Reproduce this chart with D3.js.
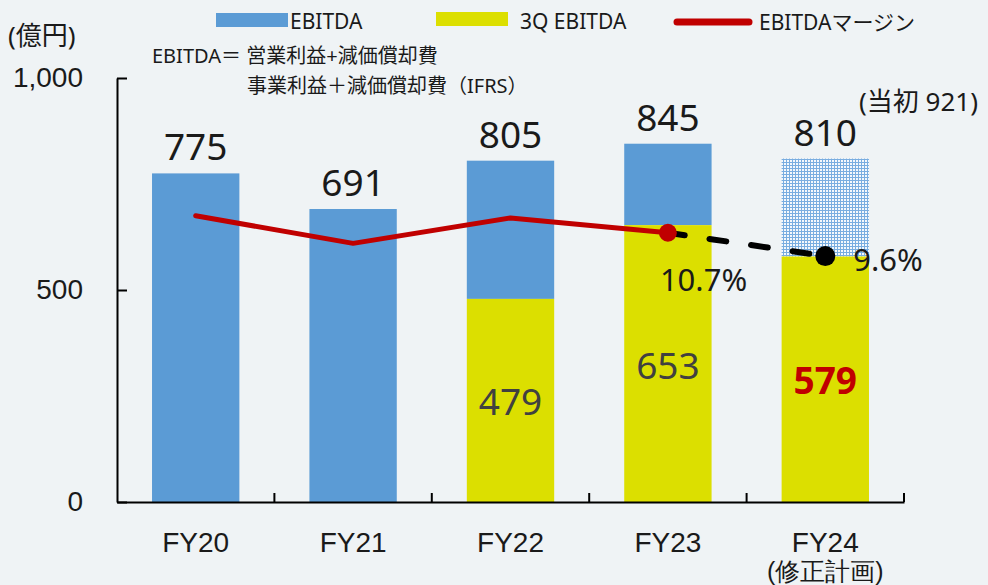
<!DOCTYPE html>
<html lang="ja">
<head>
<meta charset="utf-8">
<script src="https://cdn.jsdelivr.net/npm/d3@7"></script>
<style>
    html, body { margin: 0; padding: 0; background: #eff3f5; }
    svg { display: block; font-family: "Noto Sans", "Noto Sans CJK JP", sans-serif; }
</style>
</head>
<body>
<svg id="chart" width="988" height="585"></svg>
<script>
// data
let categories = ['FY20', 'FY21', 'FY22', 'FY23', 'FY24'];
let subLabels = ['', '', '', '', '(修正計画)'];
let ebitda = [775, 691, 805, 845, 810];
let q3Ebitda = [null, null, 479, 653, 579];
let margin = [11.5, 10.2, 11.4, 10.7, 9.6];   // %
let planned = [false, false, false, false, true];
let marginLabelIdx = [3, 4];
let yTicks = [0, 500, 1000];
let initialPlan = 921;

let blue = '#5b9bd5', yellow = '#dcdf00', red = '#c00000', ink = '#1a1a1a';

var svg = d3.select('#chart');
svg.append('rect').attr('width', 988).attr('height', 585).attr('fill', '#eff3f5');

// checker pattern for the plan part of FY24
var pat = svg.append('defs').append('pattern')
    .attr('id', 'planDots')
    .attr('width', 3).attr('height', 3)
    .attr('patternUnits', 'userSpaceOnUse');
pat.append('rect').attr('width', 3).attr('height', 3).attr('fill', '#79ade0');
pat.append('rect').attr('x', 1).attr('y', 1).attr('width', 2).attr('height', 2).attr('fill', '#f4f8fc');

var x = d3.scaleBand()
    .domain(categories)
    .range([117, 904])
    .paddingInner(0.445)
    .paddingOuter(0.2225);
var y = d3.scaleLinear().domain([0, 1000]).range([502, 78]);
var yMargin = d3.scaleLinear().domain([-2, 18]).range([502, 78]);

var rows = categories.map((c, i) => ({
    cat: c, total: ebitda[i], q3: q3Ebitda[i], margin: margin[i], plan: planned[i], sub: subLabels[i]
}));

// bars
svg.append('g').attr('class', 'bars-total')
    .selectAll('rect')
    .data(rows)
    .enter()
    .append('rect')
    .attr('x', d => x(d.cat))
    .attr('width', x.bandwidth())
    .attr('y', d => y(d.total))
    .attr('height', d => y(d.q3 == null ? 0 : d.q3) - y(d.total))
    .attr('fill', d => d.plan ? 'url(#planDots)' : blue);

svg.append('g').attr('class', 'bars-q3')
    .selectAll('rect')
    .data(rows.filter(d => d.q3 != null))
    .enter()
    .append('rect')
    .attr('x', d => x(d.cat))
    .attr('width', x.bandwidth())
    .attr('y', d => y(d.q3))
    .attr('height', d => y(0) - y(d.q3))
    .attr('fill', yellow);

// axes
var yAxis = svg.append('g')
    .attr('class', 'y_axis')
    .attr('transform', 'translate(117,0)')
    .call(d3.axisLeft(y).tickValues(yTicks).tickSize(-10).tickSizeOuter(0).tickPadding(34).tickFormat(d3.format(',')));
yAxis.selectAll('.domain, .tick line').attr('stroke', '#000').attr('stroke-width', 2);
yAxis.selectAll('text').attr('font-size', '28px').attr('fill', ink);

var xAxis = svg.append('g')
    .attr('class', 'x_axis')
    .attr('transform', 'translate(0,502)')
    .call(d3.axisBottom(x).tickSize(0).tickSizeOuter(0).tickPadding(30));
xAxis.select('.domain').attr('stroke', '#000').attr('stroke-width', 2);
xAxis.selectAll('.tick text').attr('font-size', '28px').attr('fill', ink);
xAxis.selectAll('.tick')
    .append('text')
    .attr('y', 78)
    .attr('fill', ink)
    .attr('font-size', '25px')
    .text((d, i) => subLabels[i]);

// boundary ticks between categories
var gap = x.step() * x.paddingInner();
xAxis.append('g')
    .selectAll('line')
    .data(categories)
    .enter()
    .append('line')
    .attr('x1', d => x(d) + x.bandwidth() + gap / 2)
    .attr('x2', d => x(d) + x.bandwidth() + gap / 2)
    .attr('y1', 0)
    .attr('y2', -9)
    .attr('stroke', '#000')
    .attr('stroke-width', 2);

// value labels
svg.append('g').attr('class', 'labels-total')
    .selectAll('text')
    .data(rows)
    .enter()
    .append('text')
    .attr('x', d => x(d.cat) + x.bandwidth() / 2)
    .attr('y', d => y(d.total) - 13)
    .attr('text-anchor', 'middle')
    .attr('font-size', '37px')
    .attr('fill', ink)
    .text(d => d.total);

svg.append('text')
    .attr('x', x('FY24') + x.bandwidth() - 10)
    .attr('y', y(ebitda[4]) - 48)
    .attr('font-size', '26px')
    .attr('fill', ink)
    .text('(当初 ' + initialPlan + ')');

svg.append('g').attr('class', 'labels-q3')
    .selectAll('text')
    .data(rows.filter(d => d.q3 != null))
    .enter()
    .append('text')
    .attr('x', d => x(d.cat) + x.bandwidth() / 2)
    .attr('y', d => (y(d.q3) + y(0)) / 2 + 15)
    .attr('text-anchor', 'middle')
    .attr('font-size', '37px')
    .attr('font-weight', d => d.plan ? 'bold' : 'normal')
    .attr('fill', d => d.plan ? red : '#404040')
    .text(d => d.q3);

// margin line
var line = d3.line()
    .x(d => x(d.cat) + x.bandwidth() / 2)
    .y(d => yMargin(d.margin));

svg.append('path')
    .datum(rows.slice(3))
    .attr('d', line)
    .attr('fill', 'none')
    .attr('stroke', '#000')
    .attr('stroke-width', 6)
    .attr('stroke-dasharray', '17,25')
    .attr('stroke-linecap', 'round');

svg.append('path')
    .datum(rows.slice(0, 4))
    .attr('d', line)
    .attr('fill', 'none')
    .attr('stroke', red)
    .attr('stroke-width', 5)
    .attr('stroke-linejoin', 'round')
    .attr('stroke-linecap', 'round');

svg.append('circle')
    .attr('cx', x('FY23') + x.bandwidth() / 2)
    .attr('cy', yMargin(margin[3]))
    .attr('r', 9)
    .attr('fill', red);
svg.append('circle')
    .attr('cx', x('FY24') + x.bandwidth() / 2)
    .attr('cy', yMargin(margin[4]))
    .attr('r', 10)
    .attr('fill', '#000');

svg.append('g').attr('class', 'labels-margin')
    .selectAll('text')
    .data(marginLabelIdx.map(i => rows[i]))
    .enter()
    .append('text')
    .attr('x', d => x(d.cat) + x.bandwidth() / 2 + (d.plan ? 28 : -8))
    .attr('y', d => yMargin(d.margin) + (d.plan ? 15 : 58))
    .attr('font-size', '31px')
    .attr('fill', ink)
    .text(d => d.margin.toFixed(1) + '%');

// unit + note
svg.append('text').attr('x', 8).attr('y', 45).attr('font-size', '26px').attr('fill', ink).text('(億円)');
svg.append('text').attr('x', 152).attr('y', 63).attr('font-size', '20px').attr('fill', ink).text('EBITDA＝ 営業利益+減価償却費');
svg.append('text').attr('x', 247).attr('y', 93).attr('font-size', '20px').attr('fill', ink).text('事業利益＋減価償却費（IFRS）');

// legend
var legend = svg.append('g').attr('class', 'legend').attr('font-size', '21px').attr('fill', ink);
legend.append('rect').attr('x', 216).attr('y', 13).attr('width', 72).attr('height', 14).attr('fill', blue);
legend.append('text').attr('x', 290).attr('y', 29).text('EBITDA');
legend.append('rect').attr('x', 436).attr('y', 12).attr('width', 72).attr('height', 14).attr('fill', yellow);
legend.append('text').attr('x', 520).attr('y', 29).text('3Q EBITDA');
legend.append('line').attr('x1', 677).attr('x2', 749).attr('y1', 22).attr('y2', 22)
    .attr('stroke', red).attr('stroke-width', 7).attr('stroke-linecap', 'round');
legend.append('text').attr('x', 759).attr('y', 30).text('EBITDAマージン');
</script>
</body>
</html>
